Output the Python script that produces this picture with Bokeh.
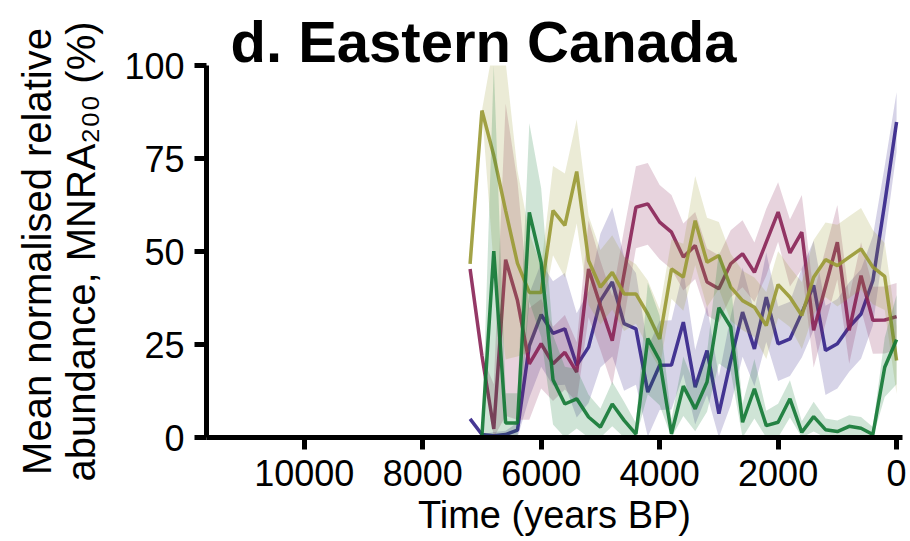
import numpy as np
from bokeh.plotting import figure
from bokeh.models import Range1d, FixedTicker, ColumnDataSource
from bokeh.embed import file_html
from bokeh.resources import INLINE

# ---- data ----
time_bp = [7200, 7000, 6800, 6600, 6400, 6200, 6000, 5800, 5600, 5400,
           5200, 5000, 4800, 4600, 4400, 4200, 4000, 3800, 3600, 3400,
           3200, 3000, 2800, 2600, 2400, 2200, 2000, 1800, 1600, 1400,
           1200, 1000, 800, 600, 400, 200, 0]

indigo_mean = [5, 0.8, 0.5, 0.8, 2, 24.7, 33, 28, 29.2, 19.4,
               24.3, 36.8, 41.8, 30.6, 29.2, 12.2, 19.4, 19.5, 31, 13.5,
               23.4, 6.4, 20.7, 33.7, 23.8, 37.7, 25.2, 26.5, 33.5, 40.9,
               23.4, 25.2, 29.7, 33.2, 42.2, 63, 84.8]
indigo_err = [0, 0, 1, 1, 2, 14, 14, 14, 15, 14,
              15, 18, 20, 18, 15, 12, 12, 12, 14, 10,
              12, 10, 12, 12, 10, 12, 10, 10, 12, 12,
              12, 12, 12, 12, 12, 10, 8]

wine_mean = [45.3, 22, 2.3, 47.8, 36.8, 19.8, 25.2, 19.8, 22.9, 17.6,
             45.3, 35.5, 26, 44, 61.9, 62.8, 57.9, 55.2, 48.5, 51.6,
             41.8, 40, 46.7, 49.4, 44.4, 52.5, 60.6, 49.6, 55.2, 28.8,
             40.6, 52.5, 28.8, 43.5, 31.5, 31.6, 32.5]
wine_err = [0, 0, 12, 42, 32, 15, 12, 10, 10, 8,
            13, 12, 12, 12, 11, 11, 10, 10, 9, 9,
            9, 9, 9, 9, 8, 9, 8, 9, 10, 10,
            10, 10, 9, 9, 9, 9, 9]

olive_mean = [46.7, 87.9, 75.8, 61, 46.8, 39, 39, 61, 57, 71.5,
              47.6, 40.4, 44.4, 38.6, 38.6, 33.2, 26.5, 45.3, 43.1, 58.3,
              47.1, 48.9, 40.4, 36.8, 35, 30.1, 41.1, 37.7, 32.8, 43.1,
              47.8, 46.2, 48.5, 50.7, 45.8, 43.3, 20.7]
olive_err = [0, 0, 30, 40, 25, 16, 7, 12, 14, 14,
             12, 10, 10, 10, 8, 9, 8, 8, 9, 12,
             12, 9, 9, 8, 8, 9, 9, 8, 9, 10,
             10, 11, 11, 11, 10, 9, 9]

green_mean = [np.nan, 0.5, 50.1, 3.9, 3.9, 60.5, 47, 15.5, 9, 10.4,
              5.5, 2.8, 9, 4.6, 0.9, 26.6, 20.7, 1, 13.8, 7.7,
              14.9, 34.9, 29.7, 4.1, 13.1, 3.2, 4.1, 10.4, 1.4, 5.6,
              2.1, 1.6, 3, 2.5, 0.8, 18.9, 26.3]
green_err = [np.nan, 0, 50, 8, 8, 24, 20, 12, 10, 8,
             6, 5, 6, 5, 3, 15, 12, 4, 8, 6,
             8, 15, 12, 5, 8, 4, 5, 5, 3, 4,
             3, 3, 3, 3, 2, 8, 12]

y_ticks = [0, 25, 50, 75, 100]
x_ticks = [10000, 8000, 6000, 4000, 2000, 0]

series = [
    ("indigo", indigo_mean, indigo_err, "#332288"),
    ("wine", wine_mean, wine_err, "#882255"),
    ("olive", olive_mean, olive_err, "#999933"),
    ("green", green_mean, green_err, "#117733"),
]

FONT = "Liberation Sans"

p = figure(width=910, height=541, output_backend="svg", toolbar_location=None,
           x_range=Range1d(11650, -100), y_range=Range1d(0, 100),
           min_border_left=206, min_border_right=8,
           min_border_top=65, min_border_bottom=104,
           title="d. Eastern Canada")
p.outline_line_color = None
p.xgrid.visible = False
p.ygrid.visible = False
p.background_fill_color = "white"
p.border_fill_color = "white"

p.title.text_font = FONT
p.title.text_font_size = "58px"
p.title.text_font_style = "bold"
p.title.text_color = "black"
p.title.align = "left"
p.title.offset = 24
p.title.standoff = -16

for name, mean, err, col in series:
    t = np.array(time_bp, dtype=float)
    m = np.array(mean, dtype=float)
    e = np.array(err, dtype=float)
    ok = ~np.isnan(m)
    src = ColumnDataSource(dict(t=t[ok], m=m[ok],
                                lo=np.clip(m[ok] - e[ok], 0, None),
                                hi=m[ok] + e[ok]))
    p.varea(x="t", y1="lo", y2="hi", source=src, fill_color=col, fill_alpha=0.2)
    p.line(x="t", y="m", source=src, line_color=col, line_width=3.5, line_alpha=0.9)

for ax in (p.xaxis[0], p.yaxis[0]):
    ax.axis_line_width = 5
    ax.axis_line_color = "black"
    ax.major_tick_line_width = 5
    ax.major_tick_line_color = "black"
    ax.major_tick_in = 0
    ax.major_tick_out = 12
    ax.minor_tick_line_color = None
    ax.major_label_text_font = FONT
    ax.major_label_text_font_size = "36px"
    ax.major_label_text_color = "black"
    ax.axis_label_text_font = FONT
    ax.axis_label_text_font_style = "normal"
    ax.axis_label_text_color = "black"

p.xaxis[0].ticker = FixedTicker(ticks=x_ticks)
p.yaxis[0].ticker = FixedTicker(ticks=y_ticks)
p.xaxis[0].major_label_standoff = 10
p.yaxis[0].major_label_standoff = 10

p.xaxis[0].axis_label = "Time (years BP)"
p.xaxis[0].axis_label_text_font_size = "38px"
p.xaxis[0].axis_label_standoff = 5

p.yaxis[0].axis_label = "Mean normalised relative\nabundance, MNRA\u2082\u2080\u2080 (%)"
p.yaxis[0].axis_label_text_font_size = "40px"
p.yaxis[0].axis_label_text_line_height = 1.0
p.yaxis[0].axis_label_standoff = 18

open("out.html", "w").write(file_html(p, INLINE))
